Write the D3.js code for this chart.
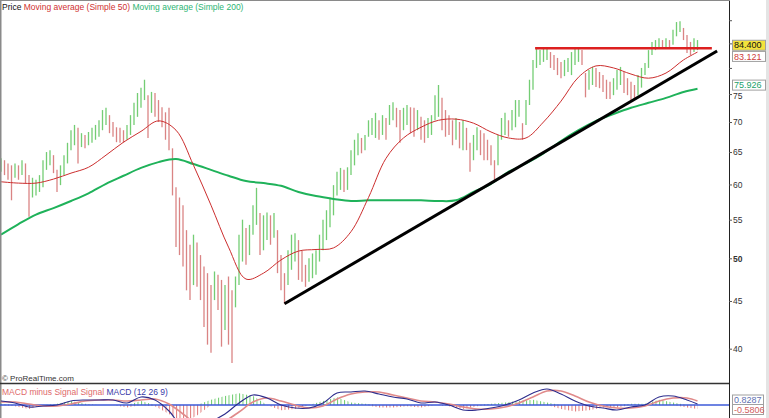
<!DOCTYPE html>
<html><head><meta charset="utf-8">
<script src="https://cdn.jsdelivr.net/npm/d3@7/dist/d3.min.js"></script>
<style>html,body{margin:0;padding:0;background:#fff;overflow:hidden}text{font-family:"Liberation Sans",Arial,sans-serif}</style>
</head><body><svg id="c" width="769" height="418"></svg>
<script>
// ---- data ----
const highs = [
64.0,63.7,63.2,62.9,63.2,62.9,63.7,63.2,61.4,61.0,
60.7,61.4,63.7,65.0,65.3,64.5,62.2,62.9,64.5,66.5,
68.6,69.5,69.0,68.1,67.8,68.3,69.0,69.5,70.3,72.1,
72.5,71.2,70.0,69.1,69.0,68.6,69.5,71.2,73.4,75.2,
76.2,77.7,74.8,75.4,75.2,73.9,72.6,71.7,72.5,65.6,
59.6,58.1,57.0,53.6,51.7,53.0,52.0,50.4,49.0,48.2,
46.8,48.4,48.0,47.4,46.8,47.8,46.2,47.8,53.0,55.0,
53.9,54.3,57.0,59.5,55.9,55.6,56.0,55.6,55.9,53.6,
50.4,48.2,51.0,53.0,53.2,52.3,51.0,49.2,50.0,50.6,
51.0,53.0,55.0,56.3,58.1,59.9,61.9,62.5,62.2,62.6,
65.3,67.0,68.1,67.3,67.8,70.3,70.7,71.6,70.3,71.2,
70.7,73.0,73.5,72.5,72.1,72.5,73.0,72.6,72.5,72.1,
70.9,70.3,70.7,71.2,74.8,76.7,74.3,72.1,71.2,70.3,
70.7,70.0,70.3,69.0,66.5,67.8,69.1,68.6,68.1,67.0,
66.1,63.7,67.8,70.7,71.6,70.3,72.1,73.9,73.9,69.8,
73.9,77.7,81.6,84.0,83.6,84.0,84.2,83.2,82.6,82.0,
81.2,81.6,82.0,83.2,84.2,84.0,83.6,79.0,79.6,80.2,
80.0,79.2,78.6,77.7,77.3,78.0,79.6,80.2,79.2,78.0,
77.3,76.7,78.6,80.0,81.0,83.6,85.3,85.7,86.1,85.7,
86.1,85.7,87.9,89.6,89.8,88.3,86.8,85.3,86.1,85.7];
const lows = [
61.9,61.4,60.7,57.7,61.0,60.7,61.4,60.2,55.4,58.1,
58.4,58.9,59.6,62.2,62.9,61.7,58.9,59.9,61.4,63.2,
65.3,66.1,63.2,65.8,65.6,66.1,66.5,67.0,67.5,68.6,
69.5,68.1,67.5,66.6,66.5,66.5,67.0,67.8,69.5,70.9,
72.5,73.9,67.3,71.6,70.9,70.0,69.1,67.0,65.3,58.4,
51.4,50.4,49.0,46.2,45.1,46.8,46.6,45.1,42.2,40.4,
39.6,45.1,44.0,40.2,41.9,40.4,38.6,44.3,46.8,49.6,
49.2,50.4,53.0,54.3,50.4,51.0,52.3,51.7,52.6,48.2,
46.2,44.7,46.8,48.6,49.6,47.4,47.2,46.6,47.2,47.6,
48.0,49.6,51.0,52.3,54.0,55.6,58.4,59.2,58.9,59.2,
61.4,62.9,64.5,64.8,65.3,67.5,67.8,67.3,67.0,67.8,
67.0,69.5,70.3,69.1,66.5,68.6,69.5,68.1,67.5,68.6,
67.0,66.5,67.3,67.8,70.3,70.9,68.6,67.5,67.8,66.1,
67.0,65.6,65.3,65.3,61.9,63.7,65.3,64.5,63.7,63.7,
62.9,60.7,62.9,67.0,67.8,67.5,68.6,69.1,70.9,67.0,
69.5,73.0,75.8,80.0,80.6,81.2,81.6,80.0,79.6,78.6,
78.0,78.4,79.2,78.6,80.6,81.2,80.6,74.4,75.8,76.7,
76.3,76.1,75.4,74.1,74.1,74.8,75.8,76.7,75.2,74.8,
73.9,73.9,74.8,76.2,78.6,80.0,82.6,83.6,84.0,84.2,
84.0,84.2,84.7,86.5,87.4,85.7,83.0,82.6,83.2,83.6];

const maIndex = [0,5,10,15,20,25,30,35,40,45,50,55,60,65,70,75,80,85,90,95,100,105,110,115,120,125,130,135,140,145,150,155,160,165,170,175,180,185,190,195,199];
const ma50 = [60.4,60.2,60.2,60.8,61.7,62.6,64.5,66.6,68.4,70.2,68.6,62.9,57.0,51.4,47.5,48.2,49.8,50.9,51.1,51.3,53.4,58.1,64.0,67.3,69.1,70.3,70.5,69.8,68.3,67.3,67.3,70.0,73.7,78.2,80.4,80.0,78.8,78.0,79.0,81.6,83.2];
const ma200 = [53.0,54.4,55.7,56.6,57.6,58.7,60.1,61.3,62.5,63.4,63.9,63.1,62.2,61.3,60.5,60.2,59.8,58.9,58.3,57.9,57.6,57.7,57.7,57.7,57.7,57.6,57.7,58.9,60.1,61.9,63.2,64.8,66.8,68.6,70.2,71.4,72.5,73.4,74.3,75.4,76.0];

const macdIndex = [0,4,8,12,16,20,24,28,32,36,40,44,48,52,56,60,64,68,72,76,80,84,88,92,96,100,104,108,112,116,120,124,128,132,136,140,144,148,152,156,160,164,168,172,176,180,184,188,192,196,199];
const macd = [0.8,0.4,-0.4,-0.2,0,0.8,1.0,1.0,1.0,0.4,1.6,1.0,-1.2,-4.6,-5.4,-3.4,-1.8,0.4,2.0,1.4,0,-0.6,-0.6,0.4,2.4,2.6,2.8,2.2,1.6,1.2,0.4,0.6,0,-1.0,-1.0,-0.6,0,1.0,2.4,3.2,2.2,0.8,-0.2,-0.6,-1.0,-0.4,0,1.6,1.8,1.0,0.2];
const signal = [0.6,0.6,0.2,-0.2,-0.2,0.2,0.8,1.0,1.0,0.8,1.0,1.2,0.2,-1.8,-3.8,-4.2,-3.2,-1.4,0.6,1.4,0.8,0,-0.6,-0.2,1.2,2.2,2.6,2.6,2.0,1.4,0.8,0.6,0.2,-0.4,-0.8,-0.8,-0.4,0.4,1.6,2.8,2.8,1.8,0.6,-0.2,-0.6,-0.6,-0.2,0.8,1.4,1.4,0.8];

const priceTicks = [40,45,50,55,60,65,70,75,80,85,90];
const tickLabels = ["40","45","50","55","60","65","70","75","","",""];
const trendLine = [{i:81,p:44.7},{i:204.6,p:83.4}];
const resistance = [{i:152.6,p:84.0},{i:203.1,p:84.0}];
const lastValues = [
  {text:"83.121", p:83.121, shift:4, color:"#d03a3a", fill:"#ffffff"},
  {text:"84.400", p:84.4, shift:-1, color:"#111111", fill:"#f3e23c"},
  {text:"75.926", p:75.926, shift:-4, color:"#22a06a", fill:"#ffffff"}];
const macdLabels = [{text:"0.8287", v:1.0, color:"#6070b0"},{text:"-0.5806", v:-0.9, color:"#d06060"}];

// ---- drawing ----
const svg = d3.select("#c");
const axisX = 729, mainBottom = 383, macdTop = 384;
const x = d3.scaleLinear().domain([0, highs.length-1]).range([1, 697.5]);
const y = d3.scaleLog().domain([36.75, 94.61]).range([mainBottom, 0]);
const ym = d3.scaleLinear().domain([0,1]).range([405,400]);

const defs = svg.append("defs");
defs.append("clipPath").attr("id","mainclip").append("rect").attr("x",0).attr("y",0).attr("width",axisX).attr("height",mainBottom);
defs.append("clipPath").attr("id","macdclip").append("rect").attr("x",0).attr("y",macdTop).attr("width",axisX).attr("height",418-macdTop);
function hatch(id,color){
  const p = defs.append("pattern").attr("id",id).attr("patternUnits","userSpaceOnUse").attr("width",3.5).attr("height",10).attr("x",1);
  p.append("rect").attr("x",0).attr("y",0).attr("width",1).attr("height",10).attr("fill",color);
}
hatch("hg","#6fcc6f"); hatch("hr","#e07a7a");

svg.append("rect").attr("x",766).attr("y",0).attr("width",3).attr("height",418).attr("fill","#e4e4e4");

const main = svg.append("g").attr("clip-path","url(#mainclip)");
const bars = highs.map((h,i)=>({i, h, l:lows[i]}));
main.append("g").selectAll("line").data(bars).join("line")
  .attr("x1",d=>x(d.i)).attr("x2",d=>x(d.i))
  .attr("y1",d=>y(d.h)).attr("y2",d=>y(d.l))
  .attr("stroke",d=>{
    if(d.i===0) return "#5cc45c";
    const m=(d.h+d.l)/2, pm=(highs[d.i-1]+lows[d.i-1])/2;
    return m>=pm ? "#5cc45c" : "#d46f6f";})
  .attr("stroke-width",1.3).attr("stroke-opacity",0.85);

const maLine = d3.line().x(d=>x(d[0])).y(d=>y(d[1])).curve(d3.curveCatmullRom);
main.append("path").attr("d",maLine(maIndex.map((k,j)=>[k,ma200[j]])))
  .attr("fill","none").attr("stroke","#1fb25a").attr("stroke-width",2);
main.append("path").attr("d",maLine(maIndex.map((k,j)=>[k,ma50[j]])))
  .attr("fill","none").attr("stroke","#cc2e2e").attr("stroke-width",1);

main.append("line").attr("x1",x(trendLine[0].i)).attr("y1",y(trendLine[0].p))
  .attr("x2",x(trendLine[1].i)).attr("y2",y(trendLine[1].p))
  .attr("stroke","#000").attr("stroke-width",3);
main.append("line").attr("x1",x(resistance[0].i)).attr("y1",y(resistance[0].p))
  .attr("x2",x(resistance[1].i)).attr("y2",y(resistance[1].p))
  .attr("stroke","#dd2020").attr("stroke-width",2.5);

svg.append("line").attr("x1",0.75).attr("x2",0.75).attr("y1",0).attr("y2",418).attr("stroke","#8a8a8a").attr("stroke-width",1.5);
svg.append("line").attr("x1",0).attr("x2",axisX).attr("y1",0.5).attr("y2",0.5).attr("stroke","#8a8a8a").attr("stroke-width",1);
svg.append("line").attr("x1",0).attr("x2",axisX).attr("y1",383.5).attr("y2",383.5).attr("stroke","#333").attr("stroke-width",1.5);

const ax = svg.append("g").attr("transform",`translate(${axisX},0)`)
  .call(d3.axisRight(y).tickValues(priceTicks).tickSize(3).tickSizeOuter(0).tickPadding(1).tickFormat((d,i)=>tickLabels[i]));
ax.select(".domain").attr("stroke","#222");
ax.selectAll(".tick line").attr("stroke","#555");
ax.selectAll(".tick text").attr("font-size","8.5px").attr("fill","#333").attr("font-family","Liberation Sans, Arial, sans-serif")
  .attr("font-weight",d=>d===50?"bold":"normal");
ax.selectAll(".tick text").filter(d=>d===75).attr("dy","0.55em");
svg.append("line").attr("x1",axisX+0.5).attr("x2",axisX+0.5).attr("y1",mainBottom).attr("y2",418).attr("stroke","#222");

lastValues.forEach(d=>{
  const cy=y(d.p)+d.shift;
  svg.append("rect").attr("x",732.5).attr("y",cy-5).attr("width",33).attr("height",10)
    .attr("fill",d.fill).attr("stroke","#a0a0a0").attr("stroke-width",1);
  svg.append("text").attr("x",734).attr("y",cy+3.2).attr("font-size","9px").attr("fill",d.color).text(d.text);
});

const lg = svg.append("text").attr("x",2).attr("y",10).attr("font-size","8.5px");
lg.append("tspan").attr("fill","#111").text("Price ");
lg.append("tspan").attr("fill","#d03030").text("Moving average (Simple 50) ");
lg.append("tspan").attr("fill","#2cb573").text("Moving average (Simple 200)");

svg.append("text").attr("x",2).attr("y",381).attr("font-size","8px").attr("fill","#333").text("\u00A9 ProRealTime.com");

const mp = svg.append("g").attr("clip-path","url(#macdclip)");
const hist = macdIndex.map((k,j)=>[k,(macd[j]-signal[j])*1.3]);
const hArea = d3.area().x(d=>x(d[0])).y0(ym(0));
mp.append("path").attr("d",hArea.y1(d=>ym(Math.max(0,d[1])))(hist)).attr("fill","url(#hg)");
mp.append("path").attr("d",hArea.y1(d=>ym(Math.min(0,d[1])))(hist)).attr("fill","url(#hr)");
mp.append("line").attr("x1",0).attr("x2",axisX).attr("y1",ym(0)).attr("y2",ym(0)).attr("stroke","#3d5ad8").attr("stroke-width",1.3);
const mLine = d3.line().x(d=>x(d[0])).y(d=>ym(d[1])).curve(d3.curveCatmullRom);
mp.append("path").attr("d",mLine(macdIndex.map((k,j)=>[k,signal[j]]))).attr("fill","none").attr("stroke","#e08a8a").attr("stroke-width",1.6);
mp.append("path").attr("d",mLine(macdIndex.map((k,j)=>[k,macd[j]]))).attr("fill","none").attr("stroke","#2c2c8c").attr("stroke-width",1.1);

const mt = svg.append("text").attr("x",2).attr("y",395).attr("font-size","8.5px");
mt.append("tspan").attr("fill","#e06a6a").text("MACD minus Signal Signal ");
mt.append("tspan").attr("fill","#3a3aa8").text("MACD (12 26 9)");

macdLabels.forEach(d=>{
  const cy=ym(d.v);
  svg.append("rect").attr("x",732.5).attr("y",cy-5).attr("width",31).attr("height",10)
    .attr("fill","#fff").attr("stroke","#a0a0a0");
  svg.append("text").attr("x",734).attr("y",cy+3.2).attr("font-size","9px").attr("fill",d.color).text(d.text);
});
</script></body></html>
